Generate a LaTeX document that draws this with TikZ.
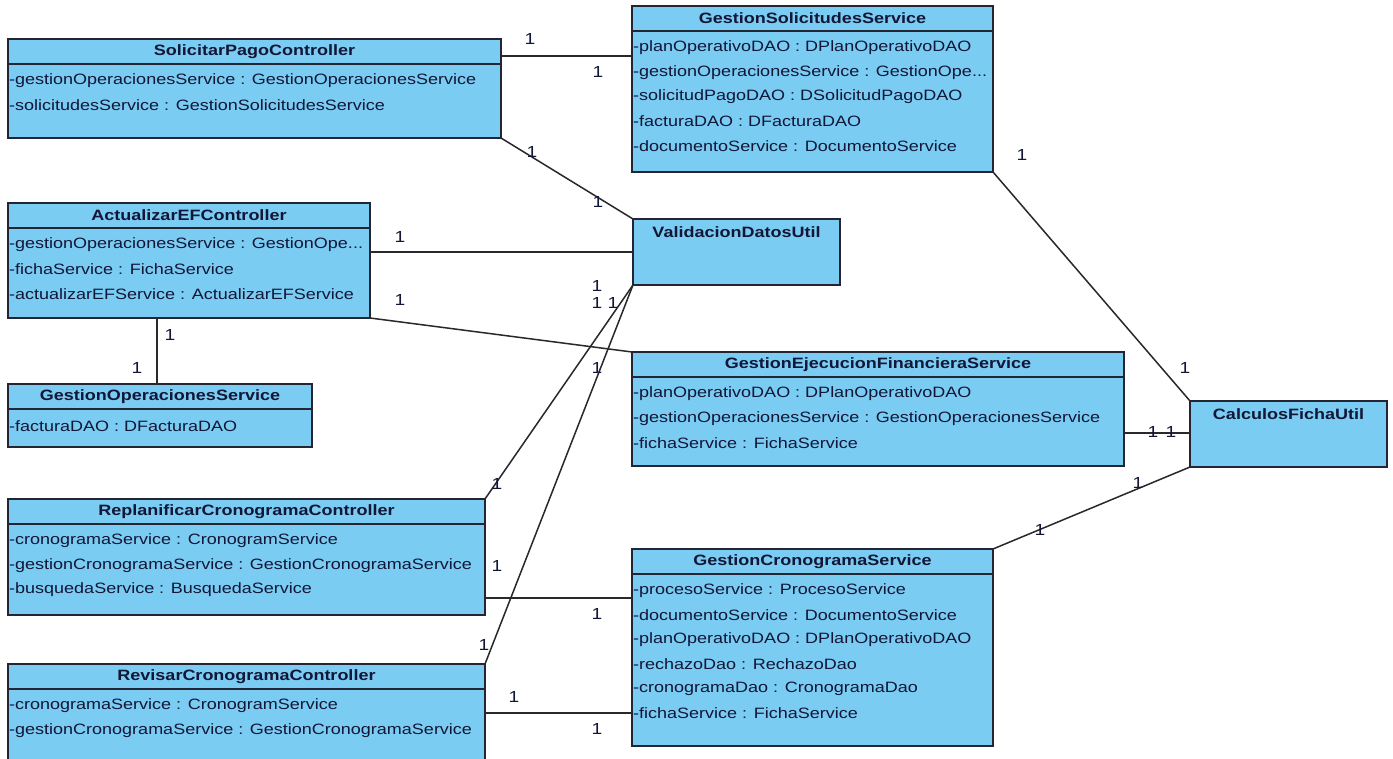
\documentclass[tikz,border=0pt]{standalone}
\usepackage{fontspec}
\setmainfont{Liberation Sans}[FakeStretch=1.2]
\usetikzlibrary{calc}
\definecolor{boxfill}{RGB}{122,204,242}
\definecolor{boxline}{RGB}{35,38,50}
\definecolor{txt}{RGB}{18,22,55}
\definecolor{connline}{RGB}{40,40,45}
\newcommand{\tdots}{...}
\tikzset{
  classbox/.style={draw=boxline, fill=boxfill, line width=1.6pt, inner sep=0pt, outer sep=0pt},
  titletext/.style={font=\fontsize{15}{17}\selectfont\bfseries, text=txt, inner sep=0pt},
  attrtext/.style={font=\fontsize{15}{17}\selectfont, text=txt, inner sep=1pt, anchor=west},
  multlabel/.style={font=\fontsize{16}{18}\selectfont, text=txt, inner sep=0pt},
  conn/.style={draw=connline, line width=1.5pt}
}
\newcommand{\umlclass}[7]{%
  \node[classbox, minimum width={#4-#2}, minimum height={#5-#3}, anchor=north west] (#1) at (#2,#3) {};
  \draw[boxline, line width=1.4pt] (#2,#3+25) -- (#4,#3+25);
  \node[titletext] (#1-title) at ({(#2+#4)/2},#3+12.5) {#6};
  \foreach \a [count=\i from 0] in {#7} {
    \node[attrtext] (#1-a\i) at (#2,{#3+42+24.5*\i}) {\a};
  }
}
\newcommand{\umlsimple}[6]{%
  \node[classbox, minimum width={#4-#2}, minimum height={#5-#3}, anchor=north west] (#1) at (#2,#3) {};
  \node[titletext] (#1-title) at ({(#2+#4)/2},#3+13) {#6};
}
\begin{document}
\begin{tikzpicture}[x=1pt,y=-1pt]
\useasboundingbox (0,0) rectangle (1393,759);
\clip (0,0) rectangle (1393,759);
\fill[white] (0,0) rectangle (1393,759);

\umlclass{spc}{8}{39}{501}{138}{SolicitarPagoController}{-gestionOperacionesService : GestionOperacionesService,-solicitudesService : GestionSolicitudesService}
\umlclass{gss}{632}{6}{993}{172}{GestionSolicitudesService}{-planOperativoDAO : DPlanOperativoDAO,-gestionOperacionesService : GestionOpe\tdots,-solicitudPagoDAO : DSolicitudPagoDAO,-facturaDAO : DFacturaDAO,-documentoService : DocumentoService}
\umlclass{aef}{8}{203}{370}{318}{ActualizarEFController}{-gestionOperacionesService : GestionOpe\tdots,-fichaService : FichaService,-actualizarEFService : ActualizarEFService}
\umlclass{gos}{8}{384}{312}{447}{GestionOperacionesService}{-facturaDAO : DFacturaDAO}
\umlsimple{vdu}{633}{219}{840}{285}{ValidacionDatosUtil}
\umlclass{gef}{632}{352}{1124}{466}{GestionEjecucionFinancieraService}{-planOperativoDAO : DPlanOperativoDAO,-gestionOperacionesService : GestionOperacionesService,-fichaService : FichaService}
\umlsimple{cfu}{1190}{401}{1387}{467}{CalculosFichaUtil}
\umlclass{rep}{8}{499}{485}{615}{ReplanificarCronogramaController}{-cronogramaService : CronogramService,-gestionCronogramaService : GestionCronogramaService,-busquedaService : BusquedaService}
\umlclass{rev}{8}{664}{485}{775}{RevisarCronogramaController}{-cronogramaService : CronogramService,-gestionCronogramaService : GestionCronogramaService}
\umlclass{gcs}{632}{549}{993}{746}{GestionCronogramaService}{-procesoService : ProcesoService,-documentoService : DocumentoService,-planOperativoDAO : DPlanOperativoDAO,-rechazoDao : RechazoDao,-cronogramaDao : CronogramaDao,-fichaService : FichaService}

% connectors
\draw[conn] ($(spc.north east)+(0,17)$) -- ($(gss.north west)+(0,50)$);
\draw[conn] (spc.south east) -- (vdu.north west);
\draw[conn] ($(aef.north east)+(0,49)$) -- ($(vdu.north west)+(0,33)$);
\draw[conn] (aef.south east) -- (gef.north west);
\draw[conn] (vdu.south west) -- (rep.north east);
\draw[conn] (vdu.south west) -- (rev.north east);
\draw[conn] ($(aef.south west)+(149,0)$) -- ($(gos.north west)+(149,0)$);
\draw[conn] (gss.south east) -- (cfu.north west);
\draw[conn] ($(gef.north east)+(0,81)$) -- ($(cfu.north west)+(0,32)$);
\draw[conn] (gcs.north east) -- (cfu.south west);
\draw[conn] ($(rep.north east)+(0,99)$) -- ($(gcs.north west)+(0,49)$);
\draw[conn] ($(rev.north east)+(0,49)$) -- ($(gcs.north west)+(0,164)$);

% multiplicities
\node[multlabel] (m1) at (530,39) {1};
\node[multlabel] (m2) at (598,72) {1};
\node[multlabel] (m3) at (532,152) {1};
\node[multlabel] (m4) at (598,202) {1};
\node[multlabel] (m5) at (400,237) {1};
\node[multlabel] (m6) at (400,300) {1};
\node[multlabel] (m7) at (597,368) {1};
\node[multlabel] (m8) at (597,286) {1};
\node[multlabel] (m9) at (597,303) {1};
\node[multlabel] (m10) at (613,303) {1};
\node[multlabel] (m11) at (497,484) {1};
\node[multlabel] (m12) at (484,645) {1};
\node[multlabel] (m13) at (170,335) {1};
\node[multlabel] (m14) at (137,368) {1};
\node[multlabel] (m15) at (1022,155) {1};
\node[multlabel] (m16) at (1185,368) {1};
\node[multlabel] (m17) at (1153,432) {1};
\node[multlabel] (m18) at (1171,432) {1};
\node[multlabel] (m19) at (1040,530) {1};
\node[multlabel] (m20) at (1138,483) {1};
\node[multlabel] (m21) at (497,566) {1};
\node[multlabel] (m22) at (597,614) {1};
\node[multlabel] (m23) at (514,697) {1};
\node[multlabel] (m24) at (597,729) {1};
\end{tikzpicture}
\end{document}
